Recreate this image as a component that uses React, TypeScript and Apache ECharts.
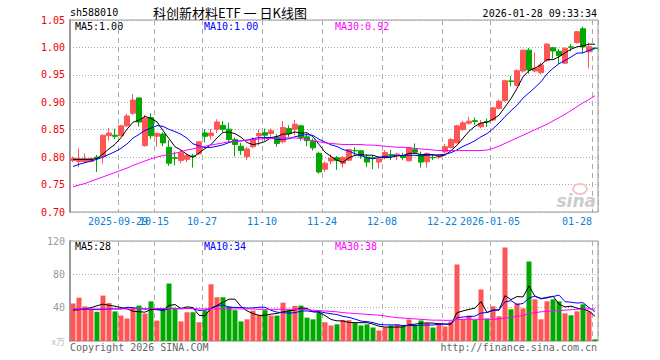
import React, { useEffect, useRef } from "react";
import * as echarts from "echarts";

// ---------- data ----------
const dates = [
  "2025-09-17","2025-09-18","2025-09-19","2025-09-22","2025-09-23","2025-09-24","2025-09-25","2025-09-26","2025-09-29","2025-09-30",
  "2025-10-09","2025-10-10","2025-10-13","2025-10-14","2025-10-15","2025-10-16","2025-10-17","2025-10-20","2025-10-21","2025-10-22",
  "2025-10-23","2025-10-24","2025-10-27","2025-10-28","2025-10-29","2025-10-30","2025-10-31","2025-11-03","2025-11-04","2025-11-05",
  "2025-11-06","2025-11-07","2025-11-10","2025-11-11","2025-11-12","2025-11-13","2025-11-14","2025-11-17","2025-11-18","2025-11-19",
  "2025-11-20","2025-11-21","2025-11-24","2025-11-25","2025-11-26","2025-11-27","2025-11-28","2025-12-01","2025-12-02","2025-12-03",
  "2025-12-04","2025-12-05","2025-12-08","2025-12-09","2025-12-10","2025-12-11","2025-12-12","2025-12-15","2025-12-16","2025-12-17",
  "2025-12-18","2025-12-19","2025-12-22","2025-12-23","2025-12-24","2025-12-25","2025-12-26","2025-12-29","2025-12-30","2025-12-31",
  "2026-01-05","2026-01-06","2026-01-07","2026-01-08","2026-01-09","2026-01-12","2026-01-13","2026-01-14","2026-01-15","2026-01-16",
  "2026-01-19","2026-01-20","2026-01-21","2026-01-22","2026-01-23","2026-01-26","2026-01-27","2026-01-28",
];

const opens = [
  0.794,0.792,0.792,0.792,0.800,0.801,0.839,0.840,0.839,0.857,
  0.880,0.908,0.821,0.872,0.838,0.842,0.818,0.799,0.794,0.796,
  0.802,0.806,0.844,0.839,0.851,0.858,0.851,0.832,0.820,0.801,
  0.819,0.8385,0.8445,0.843,0.837,0.828,0.852,0.851,0.857,0.837,
  0.829,0.807,0.778,0.793,0.799,0.7885,0.7945,0.812,0.8115,0.800,
  0.799,0.791,0.799,0.8045,0.8024,0.8024,0.7933,0.814,0.805,0.7915,
  0.7995,0.800,0.8097,0.8176,0.826,0.8505,0.862,0.8665,0.8555,0.865,
  0.8677,0.889,0.903,0.939,0.931,0.957,0.995,0.957,0.954,0.976,
  0.9995,0.993,0.9713,1.001,1.0087,1.034,0.992,0.999,
];
const closes = [
  0.798,0.797,0.797,0.797,0.798,0.840,0.844,0.838,0.857,0.875,
  0.904,0.864,0.871,0.839,0.843,0.826,0.789,0.798,0.808,0.803,
  0.801,0.828,0.838,0.844,0.864,0.851,0.832,0.823,0.812,0.815,
  0.832,0.843,0.840,0.848,0.825,0.854,0.843,0.860,0.836,0.830,
  0.817,0.773,0.789,0.798,0.794,0.7994,0.814,0.8115,0.8025,0.791,
  0.798,0.797,0.8085,0.804,0.8055,0.7994,0.8176,0.809,0.791,0.8067,
  0.7988,0.8024,0.819,0.832,0.857,0.8626,0.8655,0.865,0.8616,0.864,
  0.890,0.902,0.9394,0.938,0.9576,0.995,0.959,0.962,0.968,1.006,
  0.9935,0.985,0.9985,1.0005,1.0287,1.001,1.0012,0.998,
];
const lows = [
  0.791,0.782,0.789,0.790,0.773,0.788,0.830,0.833,0.838,0.855,
  0.877,0.856,0.819,0.833,0.819,0.820,0.784,0.785,0.789,0.791,
  0.781,0.804,0.827,0.832,0.844,0.846,0.826,0.801,0.804,0.795,
  0.816,0.821,0.830,0.837,0.819,0.825,0.836,0.840,0.830,0.820,
  0.812,0.770,0.773,0.787,0.777,0.781,0.793,0.804,0.797,0.782,
  0.778,0.779,0.796,0.7945,0.7945,0.7945,0.792,0.8055,0.781,0.781,
  0.795,0.797,0.808,0.816,0.825,0.848,0.859,0.859,0.8525,0.855,
  0.866,0.887,0.901,0.929,0.929,0.954,0.952,0.955,0.951,0.974,
  0.980,0.970,0.970,0.993,1.007,0.989,0.962,0.997,
];
const highs = [
  0.801,0.816,0.807,0.799,0.804,0.841,0.853,0.852,0.859,0.879,
  0.915,0.908,0.877,0.880,0.845,0.845,0.831,0.810,0.812,0.806,
  0.806,0.829,0.851,0.851,0.869,0.866,0.863,0.836,0.826,0.819,
  0.836,0.850,0.852,0.852,0.842,0.866,0.858,0.868,0.859,0.843,
  0.834,0.810,0.792,0.805,0.802,0.802,0.815,0.818,0.812,0.805,
  0.804,0.798,0.813,0.813,0.808,0.808,0.819,0.825,0.810,0.8085,
  0.805,0.805,0.824,0.835,0.859,0.866,0.8735,0.8725,0.8677,0.870,
  0.891,0.905,0.941,0.948,0.960,0.996,0.999,0.991,0.972,1.008,
  1.001,0.997,1.000,1.006,1.030,1.038,1.0085,1.000,
];
// volume in 万
const volumes = [
  45,52,41.5,38,35,54.5,45.5,35.5,30.5,27,
  40,42.5,33,47.5,24.5,39,69,39,23.5,34.5,
  34.5,22.5,36.5,68,52.5,52.5,41.5,37,23.5,26,
  36.5,31,37,30.5,30.5,46,37,42,42.5,28,
  26,34,22.5,18.6,20,25,25,21.5,18.6,20,
  16.2,12.6,16.2,18.6,19.8,17.5,25.8,19.2,24.6,21.5,
  16.2,21.5,17.4,23.4,91.8,26.4,30.6,25.2,61.8,27,
  41.6,29.6,112.2,38,45.2,39.2,95.4,50,26,47.6,
  50,47.6,33.2,30.8,35.6,44,35.6,2,
];
// moving-average values read where the window reaches before the first visible day
const ma5Head = [0.796,0.796,0.796,0.796];
const ma10Head = [0.783,0.787,0.790,0.793,0.796,0.800,0.805,0.810,0.816];
const ma30 = [
  0.746,0.749,0.752,0.756,0.760,0.764,0.768,0.772,0.776,0.780,
  0.785,0.789,0.793,0.797,0.800,0.803,0.805,0.807,0.810,0.813,
  0.815,0.818,0.820,0.822,0.824,0.826,0.828,0.829,0.830,0.831,
  0.832,0.833,0.834,0.834,0.835,0.835,0.835,0.835,0.834,0.832,
  0.830,0.828,0.826,0.825,0.824,0.823,0.823,0.823,0.823,0.822,
  0.822,0.821,0.820,0.819,0.818,0.818,0.817,0.816,0.815,0.814,
  0.813,0.812,0.812,0.812,0.812,0.812,0.812,0.812,0.812,0.813,
  0.816,0.820,0.825,0.830,0.835,0.840,0.845,0.850,0.855,0.860,
  0.866,0.872,0.878,0.885,0.892,0.899,0.905,0.912,
];
const volMa5Head = [37,37.5,38.5,40];
const volMa10Head = [38,38,38,38,37.5,38,38.5,38.5,38.5];
const volMa30 = [
  38.5,38.5,38.5,38.5,38.5,38.5,38.5,38.5,38.5,38.5,
  38.5,39,39,39,39,39,39,39,39,39,
  39,38.5,38.5,38.5,38.5,38.5,38.5,38.5,38.5,38.5,
  38.5,38,38,38,38,38,38,38,38,37.5,
  37,36.5,36,35.5,35,34,33.5,33,32.5,32,
  31.5,31,30,29,28,27.5,27,26.5,26,25.5,
  25,25,24.8,24.8,25.5,26,26,26,26,26,
  26,26.5,27.5,28.5,29.5,30.5,33,34,35,35.5,
  36,36.5,37,37.5,38,38.5,38.5,38.5,
];
const tickDates = ["2025-09-29","2025-10-15","2025-10-27","2025-11-10","2025-11-24","2025-12-08","2025-12-22","2026-01-05","2026-01-28"];
const tickLabels = ["2025-09-29","10-15","10-27","11-10","11-24","12-08","12-22","2026-01-05","01-28"];
const priceLegend = ["MA5:1.00","MA10:1.00","MA30:0.92"];
const volLegend = ["MA5:28","MA10:34","MA30:38"];

// ---------- helpers ----------
function movingAvg(src: number[], n: number, head: number[]) {
  return src.map((_, i) => {
    if (i < n - 1) return head[i];
    let s = 0;
    for (let k = i - n + 1; k <= i; k++) s += src[k];
    return +(s / n).toFixed(4);
  });
}

const RED = "#ff5555";
const GREEN = "#00a800";
const MONO = "'DejaVu Sans Mono', monospace";

export default function App() {
  const ref = useRef<HTMLDivElement>(null);
  useEffect(() => {
    if (!ref.current) return;
    const chart = echarts.init(ref.current, undefined, { renderer: "svg" });
    const n = dates.length;
    const tickIdx = tickDates.map((d) => dates.indexOf(d));
    const labelAt: Record<number, string> = {};
    tickIdx.forEach((ix, k) => (labelAt[ix] = tickLabels[k]));
    const lastIdx = tickIdx[tickIdx.length - 1];

    const kData = dates.map((_, i) => [opens[i], closes[i], lows[i], highs[i]]);
    const ma5 = movingAvg(closes, 5, ma5Head);
    const ma10 = movingAvg(closes, 10, ma10Head);
    const vma5 = movingAvg(volumes, 5, volMa5Head);
    const vma10 = movingAvg(volumes, 10, volMa10Head);
    const volData = volumes.map((v, i) => ({
      value: v,
      itemStyle: { color: closes[i] >= opens[i] ? RED : GREEN },
    }));

    const vSplit = {
      show: true,
      interval: (index: number) => tickIdx.indexOf(index) >= 0,
      lineStyle: { color: "#aaaaaa", type: [5, 4] as any, width: 1 },
    };
    const hSplit = { show: true, lineStyle: { color: "#aaaaaa", type: [1, 2] as any, width: 1 } };
    const lineS = (name: string, data: number[], color: string, x: number, y: number) => ({
      name,
      type: "line",
      xAxisIndex: x,
      yAxisIndex: y,
      data,
      showSymbol: false,
      symbol: "none",
      lineStyle: { color, width: 1 },
      z: 5,
      silent: true,
    });

    chart.setOption({
      animation: false,
      backgroundColor: "#ffffff",
      textStyle: { fontFamily: MONO },
      grid: [
        { left: 70, top: 20, width: 528, height: 192, show: true, borderColor: "#999999", borderWidth: 1 },
        { left: 70, top: 241, width: 528, height: 100, show: true, borderColor: "#999999", borderWidth: 1 },
      ],
      xAxis: [
        {
          type: "category", gridIndex: 0, data: dates, boundaryGap: true,
          axisLine: { show: false }, axisTick: { show: false }, axisLabel: { show: false },
          splitLine: vSplit,
        },
        {
          type: "category", gridIndex: 1, data: dates, boundaryGap: true,
          axisLine: { show: false }, axisTick: { show: false }, axisLabel: { show: false },
          splitLine: vSplit,
        },
        {
          type: "value", gridIndex: 0, min: 0, max: n, interval: 1, position: "bottom",
          axisLine: { show: false }, axisTick: { show: false }, splitLine: { show: false },
          axisLabel: {
            show: true, margin: 4, color: "#0a7fd6", fontSize: 10, fontFamily: MONO,
            formatter: (v: number) => {
              const s = labelAt[Math.round(v)];
              if (!s) return "";
              return Math.round(v) === lastIdx ? "{r|" + s + "}" : s;
            },
            rich: { r: { padding: [0, 30, 0, 0], color: "#0a7fd6", fontSize: 10, fontFamily: MONO } },
          },
        },
      ],
      yAxis: [
        {
          type: "value", gridIndex: 0, min: 0.7, max: 1.05, interval: 0.05,
          axisLine: { show: true, lineStyle: { color: "#999999", width: 2 } }, axisTick: { show: false },
          axisLabel: { color: "#ee0000", fontSize: 10, fontFamily: MONO, margin: 5, formatter: (v: number) => v.toFixed(2) },
          splitLine: hSplit,
        },
        {
          type: "value", gridIndex: 1, min: 0, max: 120, interval: 40,
          axisLine: { show: true, lineStyle: { color: "#999999", width: 2 } }, axisTick: { show: false },
          axisLabel: {
            color: "#999999", fontSize: 10, fontFamily: MONO, margin: 5,
            formatter: (v: number) => (v === 0 ? "{u|x万}" : String(v)),
            rich: { u: { color: "#bbbbbb", fontSize: 9, fontFamily: "'Noto Sans CJK SC'" } },
          },
          splitLine: hSplit,
        },
      ],
      series: [
        {
          name: "K", type: "candlestick", xAxisIndex: 0, yAxisIndex: 0, data: kData, barWidth: 5,
          itemStyle: { color: RED, color0: GREEN, borderColor: RED, borderColor0: GREEN, borderWidth: 1 },
          silent: true,
        },
        lineS("MA5", ma5, "#000000", 0, 0),
        lineS("MA10", ma10, "#0000ff", 0, 0),
        lineS("MA30", ma30, "#ff00ff", 0, 0),
        { name: "VOL", type: "bar", xAxisIndex: 1, yAxisIndex: 1, data: volData, barWidth: 5, silent: true },
        lineS("VMA5", vma5, "#000000", 1, 1),
        lineS("VMA10", vma10, "#0000ff", 1, 1),
        lineS("VMA30", volMa30, "#ff00ff", 1, 1),
      ],
      graphic: [
        { type: "text", left: 70, top: 7, style: { text: "sh588010", fill: "#000", font: "10px " + MONO } },
        { type: "text", x: 230, y: 12, style: { text: "科创新材料ETF 一 日K线图", fill: "#000", font: "13px 'Noto Sans CJK SC'", align: "center", verticalAlign: "middle" } },
        { type: "text", x: 597, y: 13, style: { text: "2026-01-28 09:33:34", fill: "#000", font: "10px " + MONO, align: "right", verticalAlign: "middle" } },
        { type: "text", x: 75, y: 26.5, style: { text: priceLegend[0], fill: "#000000", font: "10px " + MONO, verticalAlign: "middle" } },
        { type: "text", x: 204, y: 26.5, style: { text: priceLegend[1], fill: "#0000ff", font: "10px " + MONO, verticalAlign: "middle" } },
        { type: "text", x: 335, y: 26.5, style: { text: priceLegend[2], fill: "#ff00ff", font: "10px " + MONO, verticalAlign: "middle" } },
        { type: "text", x: 75, y: 246.5, style: { text: volLegend[0], fill: "#000000", font: "10px " + MONO, verticalAlign: "middle" } },
        { type: "text", x: 204, y: 246.5, style: { text: volLegend[1], fill: "#0000ff", font: "10px " + MONO, verticalAlign: "middle" } },
        { type: "text", x: 335, y: 246.5, style: { text: volLegend[2], fill: "#ff00ff", font: "10px " + MONO, verticalAlign: "middle" } },
        { type: "text", x: 70, y: 347, style: { text: "Copyright 2026 SINA.COM", fill: "#666666", font: "10px " + MONO, verticalAlign: "middle" } },
        { type: "text", x: 597, y: 347, style: { text: "http://finance.sina.com.cn", fill: "#666666", font: "10px " + MONO, align: "right", verticalAlign: "middle" } },
        { type: "ellipse", shape: { cx: 580, cy: 189, rx: 7, ry: 5 }, style: { fill: "none", stroke: "#f4c4c4", lineWidth: 2 }, z: 1 },
        { type: "text", x: 596, y: 201, style: { text: "sina", fill: "#cccccc", font: "italic bold 17px 'DejaVu Sans'", align: "right", verticalAlign: "middle" }, z: 1 },
      ],
    });
    return () => chart.dispose();
  }, []);
  return <div ref={ref} style={{ position: "absolute", left: 0, top: 0, width: 660, height: 360 }} />;
}
